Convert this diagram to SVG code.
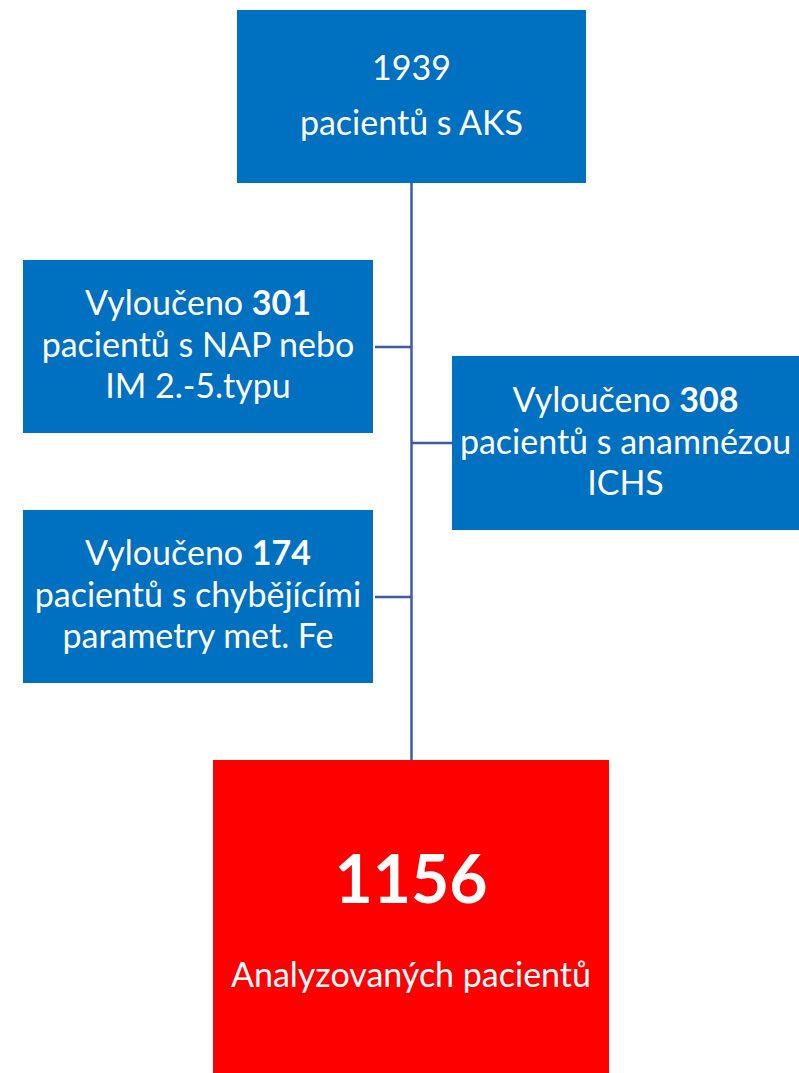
<svg xmlns="http://www.w3.org/2000/svg" width="799" height="1073" viewBox="0 0 799 1073">
<style>
.box{fill:#0070C0;}
.red{fill:#FF0000;}
.t{font-family:Lato,"Liberation Sans",sans-serif;font-size:34px;fill:#fff;text-anchor:middle;}
.b{font-weight:bold;}
.c{stroke:#3C5AA5;stroke-width:2.5;fill:none;}
</style>
<rect width="799" height="1073" fill="#fff"/>
<g id="connectors">
<line class="c" x1="411.5" y1="183" x2="411.5" y2="760"/>
<line class="c" x1="375" y1="347" x2="411.5" y2="347"/>
<line class="c" x1="375" y1="597" x2="411.5" y2="597"/>
<line class="c" x1="411.5" y1="443" x2="452" y2="443"/>
</g>
<g id="n_total">
<rect class="box" x="237" y="10" width="349" height="173"/>
<text class="t" x="411.5" y="80">1939</text>
<text class="t" x="411.5" y="135">pacientů s AKS</text>
</g>
<g id="n_excl301">
<rect class="box" x="23" y="260" width="350" height="173"/>
<text class="t" x="198" y="315">Vyloučeno <tspan class="b">301</tspan></text>
<text class="t" x="198" y="356.5">pacientů s NAP nebo</text>
<text class="t" x="198" y="398">IM 2.-5.typu</text>
</g>
<g id="n_excl308">
<rect class="box" x="452" y="356" width="347" height="174"/>
<text class="t" x="625.5" y="412">Vyloučeno <tspan class="b">308</tspan></text>
<text class="t" x="625.5" y="453.5">pacientů s anamnézou</text>
<text class="t" x="625.5" y="495">ICHS</text>
</g>
<g id="n_excl174">
<rect class="box" x="23" y="510" width="350" height="173"/>
<text class="t" x="198" y="565">Vyloučeno <tspan class="b">174</tspan></text>
<text class="t" x="198" y="606.5">pacientů s chybějícími</text>
<text class="t" x="198" y="648">parametry met. Fe</text>
</g>
<g id="n_result">
<rect class="red" x="213" y="760" width="396" height="313"/>
<text class="t b" x="411" y="903" style="font-size:66px">1156</text>
<text class="t" x="411" y="987">Analyzovaných pacientů</text>
</g>
</svg>
